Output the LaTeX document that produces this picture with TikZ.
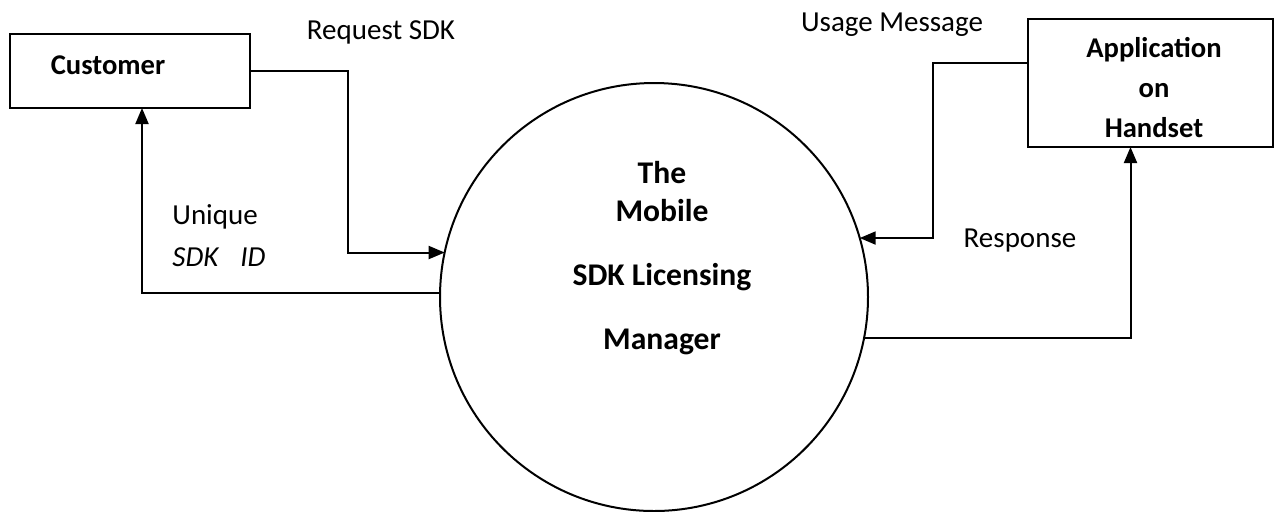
\documentclass[tikz,border=0pt]{standalone}
\usepackage{fontspec}
\setmainfont{Carlito}
\usetikzlibrary{arrows.meta,calc}
\begin{document}
\begin{tikzpicture}[x=0.5pt,y=-0.5pt,
  entity/.style={draw,line width=1pt,inner sep=0,outer sep=0},
  process/.style={draw,circle,line width=1pt,inner sep=0,outer sep=0,minimum size=214pt},
  flow/.style={line width=1pt,-{Triangle[length=8pt,width=6.5pt]}},
  lbl/.style={font=\fontsize{14.5}{17}\selectfont,inner sep=0},
  boxtext/.style={font=\fontsize{14.3}{20}\bfseries\selectfont,inner sep=0,align=center},
  ctext/.style={font=\fontsize{15.8}{19}\bfseries\selectfont,inner sep=0,align=center}]
\useasboundingbox (0,0) rectangle (1275,511);

% external entities
\node[entity,minimum width=120pt,minimum height=37pt] (cust) at (130,71) {};
\node[boxtext] (custtext) at (108,65) {Customer};
\node[entity,minimum width=122.5pt,minimum height=64pt] (app) at (1150.5,83) {};
\node[boxtext] (apptext) at (1154,87.5) {Application\\on\\Handset};

% central process
\node[process] (mgr) at (654,297) {};
\node[ctext] (mgrtext) at (662,258) {The\\Mobile\\[13pt]SDK Licensing\\[13pt]Manager};

% data flows
\draw[flow] (cust.east) -- ++(98,0) |- (mgr.168.1);
\draw[flow] (mgr.179.5) -| ($(cust.south)+(12,0)$);
\draw[flow] ($(app.west)+(0,-20)$) -- ++(-95,0) |- (mgr.16.6);
\draw[flow] (mgr.-11.6) -| ($(app.south)+(-20,0)$);

% flow labels
\node[lbl] (lreq) at (381,32) {Request SDK};
\node[lbl,anchor=west] (luniq) at (172,217) {Unique};
\node[lbl,anchor=west] (lid) at (172,257) {\itshape SDK\hspace{11pt}ID};
\node[lbl] (lusage) at (892,25) {Usage Message};
\node[lbl] (lresp) at (1020,241) {Response};
\end{tikzpicture}
\end{document}
